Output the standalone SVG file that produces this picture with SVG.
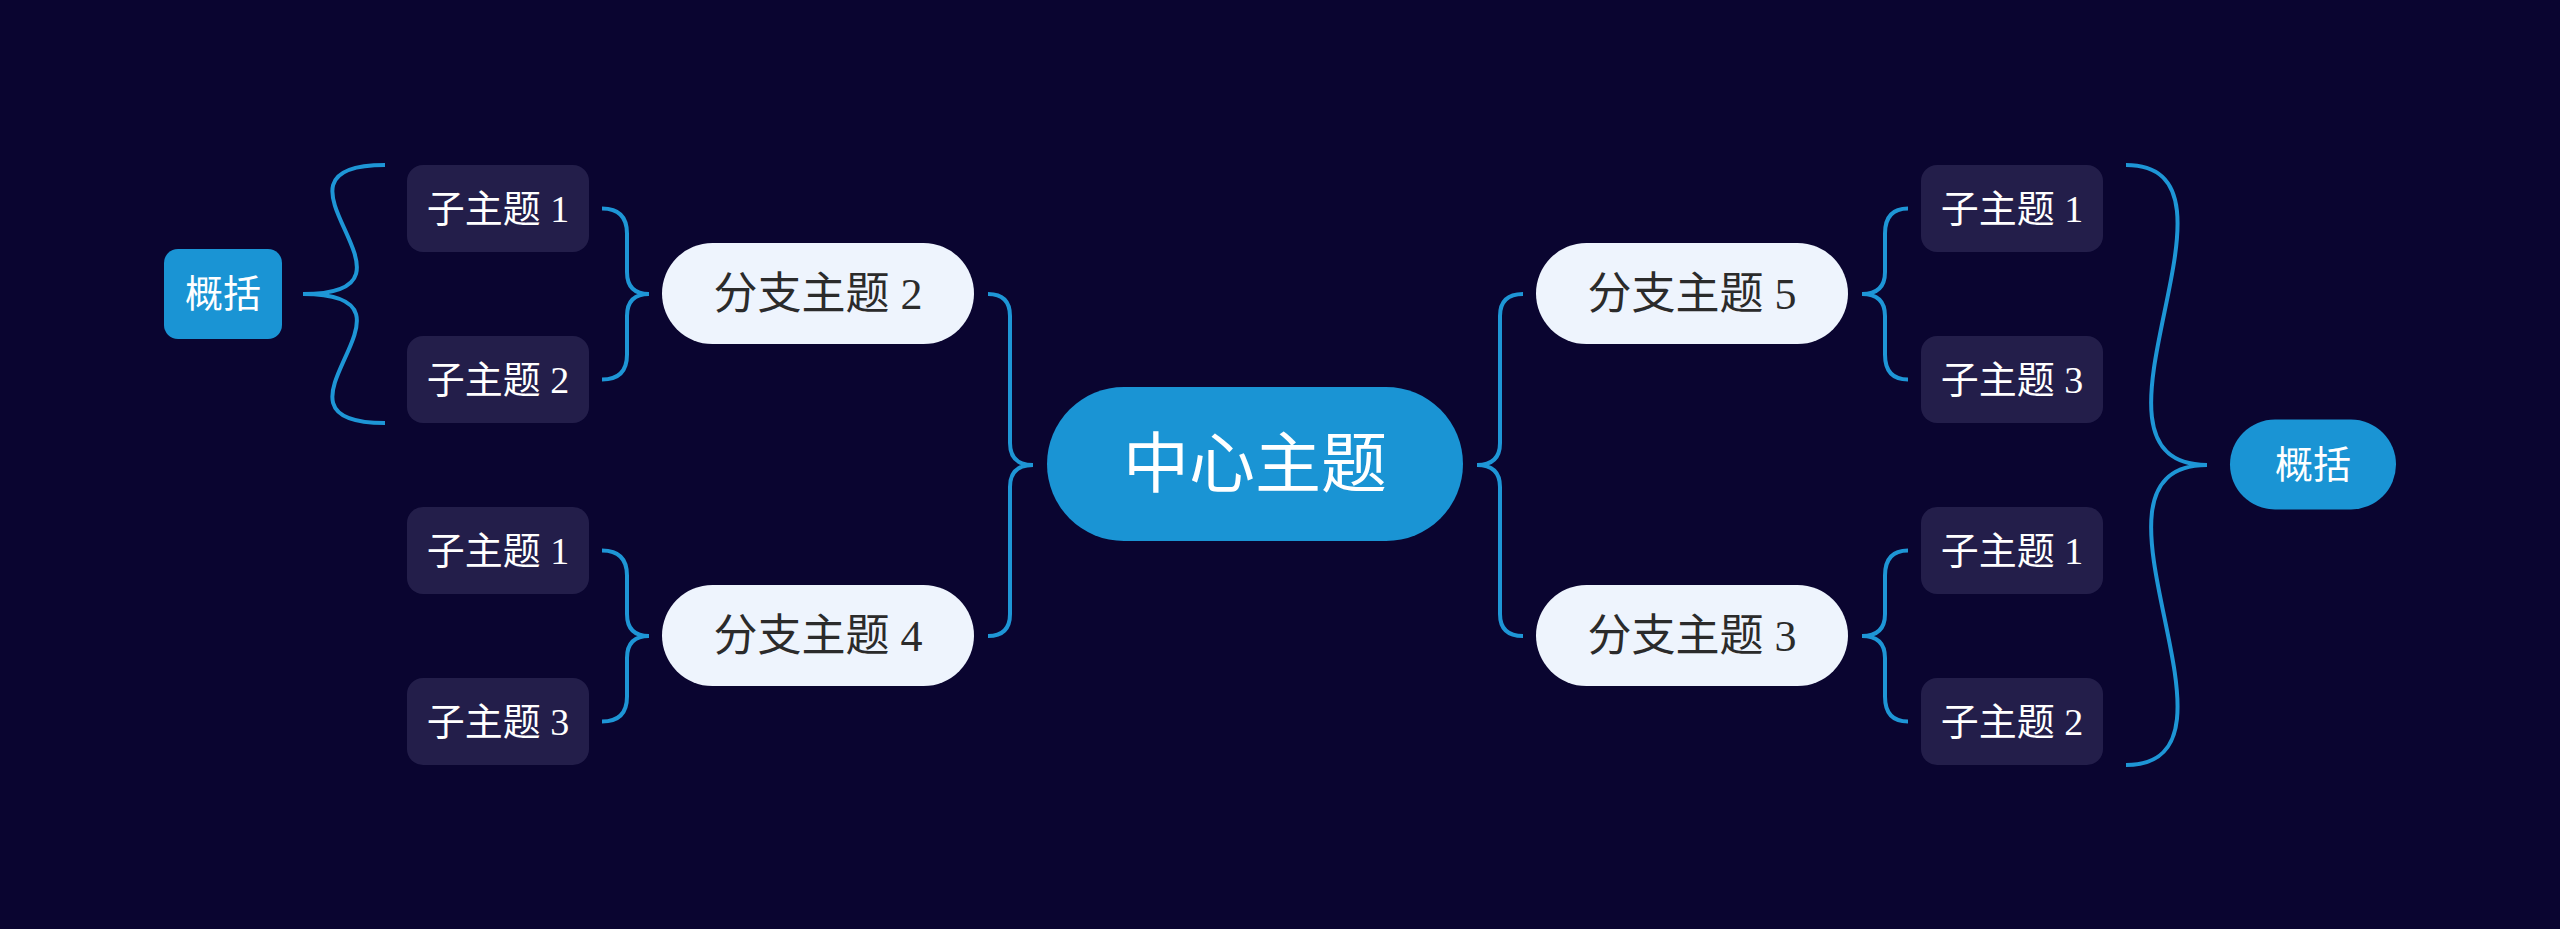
<svg xmlns="http://www.w3.org/2000/svg" width="2560" height="929" viewBox="0 0 2560 929">
<style>
.bg{fill:#0a0530}
.sub rect{fill:#231e4a}
.sub text{fill:#ffffff;font-size:38px}
.br rect{fill:#eef4fd}
.br text{fill:#2b2b2b;font-size:44px}
.sum rect{fill:#1a94d4}
.sum text{fill:#ffffff;font-size:38px}
.ctr rect{fill:#1a94d4}
.ctr text{fill:#ffffff;font-size:66px}
text{font-family:"Liberation Serif","Noto Sans CJK SC",serif;text-anchor:middle;dominant-baseline:central}
.c path{fill:none;stroke:#1e96d6;stroke-width:4;stroke-linecap:butt}
</style>
<rect class="bg" x="0" y="0" width="2560" height="929"/>
<g class="c" id="connectors">
<path d="M602,208.5 Q627,208.5 627,233.5 V272 Q627,294 649,294 Q627,294 627,316 V354.5 Q627,379.5 602,379.5"/>
<path d="M602,550.5 Q627,550.5 627,575.5 V614 Q627,636 649,636 Q627,636 627,658 V696.5 Q627,721.5 602,721.5"/>
<path d="M988,294 Q1010,294 1010,316 V443 Q1010,465 1033,465 Q1010,465 1010,487 V614 Q1010,636 988,636"/>
<path d="M1523,294 Q1500,294 1500,316 V443 Q1500,465 1477,465 Q1500,465 1500,487 V614 Q1500,636 1523,636"/>
<path d="M1908,208.5 Q1885,208.5 1885,233.5 V272 Q1885,294 1862,294 Q1885,294 1885,316 V354.5 Q1885,379.5 1908,379.5"/>
<path d="M1908,550.5 Q1885,550.5 1885,575.5 V614 Q1885,636 1862,636 Q1885,636 1885,658 V696.5 Q1885,721.5 1908,721.5"/>
<path d="M385,165 C245,165 445,294 303,294 C445,294 245,423 385,423"/>
<path d="M2126,165 C2266,165 2060,465 2207,465 C2060,465 2266,765 2126,765"/>
</g>
<g id="center" class="ctr"><rect x="1047" y="387" width="416" height="154" rx="77"/><text x="1255" y="464">中心主题</text></g>
<g id="branch2" class="br"><rect x="662" y="243" width="312" height="101" rx="50.5"/><text x="818" y="294">分支主题 2</text></g>
<g id="branch4" class="br"><rect x="662" y="585" width="312" height="101" rx="50.5"/><text x="818" y="636">分支主题 4</text></g>
<g id="branch5" class="br"><rect x="1536" y="243" width="312" height="101" rx="50.5"/><text x="1692" y="294">分支主题 5</text></g>
<g id="branch3" class="br"><rect x="1536" y="585" width="312" height="101" rx="50.5"/><text x="1692" y="636">分支主题 3</text></g>
<g id="sub-l1" class="sub"><rect x="407" y="165" width="182" height="87" rx="16"/><text x="498" y="208.5">子主题 1</text></g>
<g id="sub-l2" class="sub"><rect x="407" y="336" width="182" height="87" rx="16"/><text x="498" y="379.5">子主题 2</text></g>
<g id="sub-l3" class="sub"><rect x="407" y="507" width="182" height="87" rx="16"/><text x="498" y="550.5">子主题 1</text></g>
<g id="sub-l4" class="sub"><rect x="407" y="678" width="182" height="87" rx="16"/><text x="498" y="721.5">子主题 3</text></g>
<g id="sub-r1" class="sub"><rect x="1921" y="165" width="182" height="87" rx="16"/><text x="2012" y="208.5">子主题 1</text></g>
<g id="sub-r2" class="sub"><rect x="1921" y="336" width="182" height="87" rx="16"/><text x="2012" y="379.5">子主题 3</text></g>
<g id="sub-r3" class="sub"><rect x="1921" y="507" width="182" height="87" rx="16"/><text x="2012" y="550.5">子主题 1</text></g>
<g id="sub-r4" class="sub"><rect x="1921" y="678" width="182" height="87" rx="16"/><text x="2012" y="721.5">子主题 2</text></g>
<g id="summary-left" class="sum"><rect x="164" y="249" width="118" height="90" rx="14"/><text x="223" y="294">概括</text></g>
<g id="summary-right" class="sum"><rect x="2230" y="419.5" width="166" height="90" rx="45"/><text x="2313" y="464.5">概括</text></g>
</svg>
